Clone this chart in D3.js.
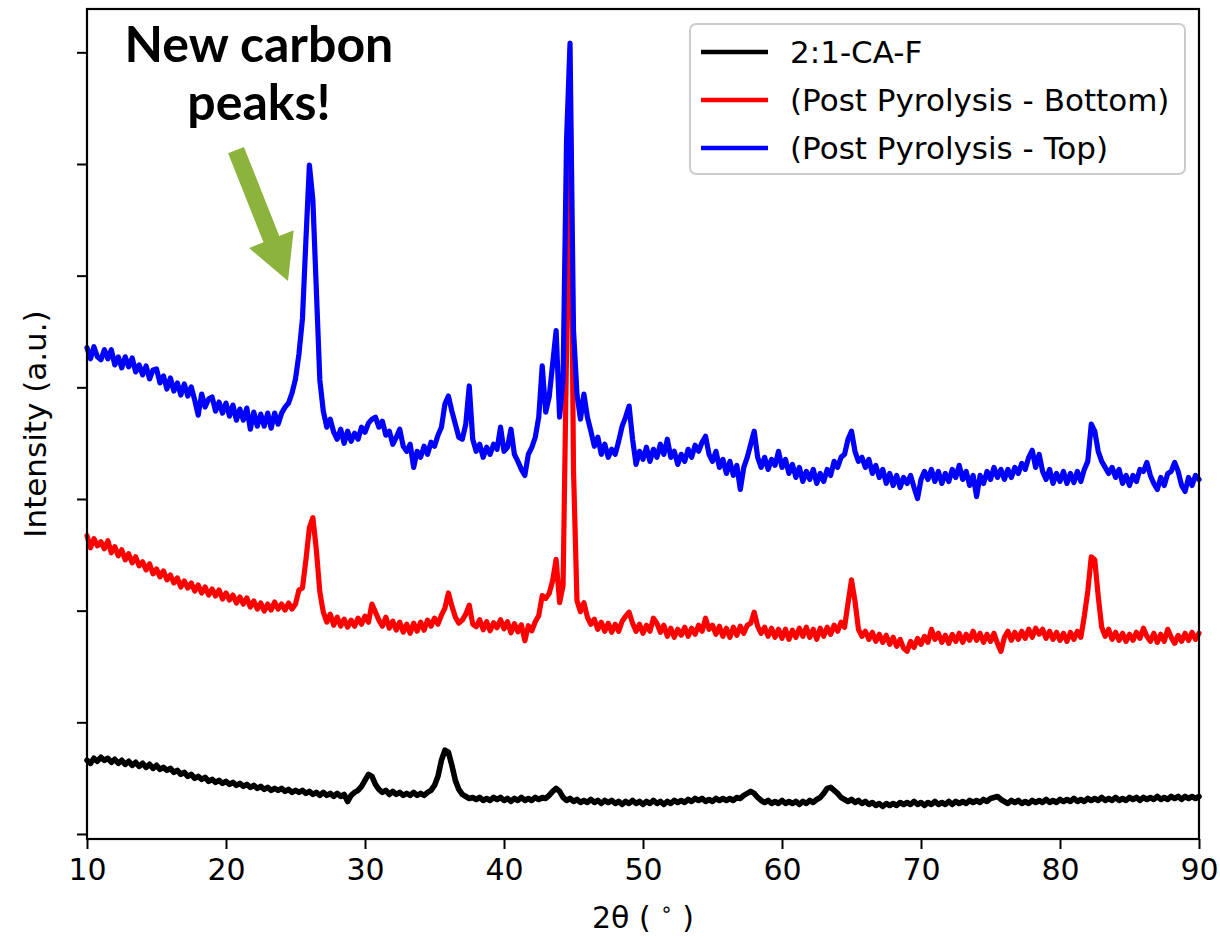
<!DOCTYPE html>
<html>
<head>
<meta charset="utf-8">
<script src="https://cdn.jsdelivr.net/npm/d3@7"></script>
<style>
  body { margin: 0; background: #ffffff; }
  svg { display: block; }
  text { font-family: "DejaVu Sans", sans-serif; fill: #000; }
</style>
</head>
<body>
<svg id="chart" width="1220" height="940"></svg>
<script>
// XRD scan grid: 2θ from 10° to 90° in 0.25° steps
const SCAN_START = 10;
const SCAN_STEP = 0.25;

const seriesNames = ["2:1-CA-F", "(Post Pyrolysis - Bottom)", "(Post Pyrolysis - Top)"];
const seriesColors = ["#000000", "#ff0000", "#0000ff"];
const seriesWidths = [5.6, 5.2, 5.2];

const xTicks = [10, 20, 30, 40, 50, 60, 70, 80, 90];
const yTicks = [0, 1000, 2000, 3000, 4000, 5000, 6000, 7000];

// Intensity (a.u.), one value per scan step, 10° .. 90°
const sampleCAF = [
  660,633,678,651, 687,660,678,642, 669,633,660,624, 651,615,642,606,
  633,597,624,588, 615,579,597,570, 588,552,570,534, 552,516,534,498,
  516,489,507,471, 489,462,480,453, 471,444,462,435, 453,426,444,417,
  435,408,426,399, 417,390,408,390, 408,381,399,372, 390,372,390,363,
  381,354,372,345, 372,345,363,336, 363,336,354,291, 345,372,390,426,
  480,534,516,444, 399,372,390,354, 381,354,372,345, 363,345,372,345,
  363,345,372,390, 435,516,660,750, 732,615,480,399, 354,336,318,327,
  309,327,300,318, 300,327,309,327, 300,318,291,318, 300,327,300,318,
  300,327,309,327, 318,345,381,408, 381,327,300,318, 291,309,282,300,
  282,309,282,300, 273,300,282,300, 273,291,264,291, 273,300,273,291,
  264,291,273,300, 273,291,264,291, 273,300,282,300, 282,309,291,318,
  300,318,291,309, 291,318,300,318, 300,318,300,327, 318,345,363,381,
  363,327,300,282, 300,273,291,273, 300,273,291,273, 291,264,291,273,
  300,282,309,327, 363,408,417,390, 363,327,309,291, 309,282,300,273,
  291,264,282,255, 273,246,273,255, 273,255,282,264, 282,264,291,264,
  282,255,282,264, 291,264,282,264, 291,264,291,273, 291,273,300,282,
  300,282,309,291, 318,327,336,309, 291,273,300,282, 300,273,291,273,
  300,282,300,282, 309,282,300,282, 309,291,309,291, 318,291,309,291,
  318,300,318,300, 327,300,318,300, 327,300,318,300, 327,309,327,300,
  327,309,327,309, 336,309,327,309, 336,318,336,309, 336,318,336,318,
  336
];

const postPyrolysisBottom = [
  2671,2563,2644,2581, 2617,2554,2626,2518, 2572,2491,2545,2455, 2509,2428,2482,2401,
  2437,2365,2419,2329, 2374,2302,2356,2275, 2320,2248,2293,2212, 2266,2203,2248,2176,
  2230,2158,2212,2140, 2194,2131,2185,2104, 2158,2095,2140,2068, 2122,2059,2113,2032,
  2086,2014,2068,1996, 2059,2005,2077,2014, 2059,2005,2068,2014, 2059,2185,2203,2455,
  2743,2833,2545,2167, 1987,1897,1969,1870, 1942,1861,1924,1852, 1915,1861,1933,1879,
  1951,1897,2059,1987, 1915,1861,1942,1843, 1906,1825,1897,1807, 1879,1798,1888,1816,
  1897,1825,1915,1861, 1933,1879,1960,2023, 2158,2041,1942,1888, 1915,1969,2050,1879,
  1856,1919,1829,1901, 1820,1892,1847,1919, 1838,1901,1802,1883, 1811,1874,1730,1865,
  1820,1901,1955,2135, 2108,2153,2270,2459, 2072,2225,4334,6797, 3260,2090,1991,2072,
  1941,1878,1923,1833, 1896,1815,1887,1806, 1878,1815,1905,1950, 1986,1887,1815,1878,
  1797,1869,1815,1932, 1887,1806,1869,1770, 1842,1761,1833,1779, 1851,1770,1842,1788,
  1869,1815,1932,1833, 1869,1788,1860,1770, 1842,1761,1851,1779, 1860,1797,1869,1887,
  1986,1860,1797,1851, 1770,1842,1761,1833, 1752,1833,1743,1824, 1761,1842,1770,1851,
  1761,1833,1743,1842, 1770,1851,1788,1869, 1815,1896,1851,2067, 2275,2085,1833,1770,
  1815,1743,1806,1725, 1788,1716,1779,1698, 1761,1680,1743,1662, 1635,1725,1671,1752,
  1698,1770,1716,1833, 1743,1797,1716,1779, 1707,1788,1725,1797, 1716,1788,1734,1815,
  1734,1797,1716,1788, 1725,1797,1707,1635, 1761,1815,1734,1806, 1743,1815,1752,1833,
  1761,1842,1788,1833, 1752,1815,1743,1806, 1734,1797,1725,1806, 1743,1815,1761,1950,
  2175,2482,2455,2130, 1851,1770,1833,1743, 1806,1734,1797,1725, 1788,1734,1806,1752,
  1842,1770,1725,1797, 1716,1788,1725,1833, 1761,1707,1779,1725, 1797,1734,1806,1743,
  1797
];

const postPyrolysisTop = [
  4354,4255,4363,4273, 4246,4336,4255,4336, 4201,4273,4174,4273, 4183,4264,4138,4201,
  4111,4192,4075,4156, 4165,4039,4102,3985, 4084,3967,4039,3931, 4030,3922,4003,3886,
  3751,3940,3823,3895, 3913,3787,3868,3769, 3859,3742,3841,3706, 3805,3706,3814,3625,
  3778,3652,3760,3652, 3769,3634,3769,3670, 3769,3823,3859,3949, 4075,4300,4615,5319,
  5991,5677,4872,4066, 3787,3643,3715,3598, 3535,3625,3499,3607, 3517,3589,3535,3643,
  3598,3679,3715,3733, 3643,3697,3571,3607, 3490,3553,3625,3472, 3427,3490,3283,3427,
  3373,3472,3400,3508, 3472,3571,3643,3850, 3922,3787,3670,3553, 3535,3670,4012,3535,
  3427,3490,3373,3463, 3400,3490,3445,3643, 3427,3463,3625,3400, 3337,3265,3211,3400,
  3463,3553,3733,4192, 3778,3913,4210,4507, 3733,4075,6215,7083, 4513,3940,3715,3940,
  3733,3607,3472,3553, 3400,3490,3373,3445, 3400,3517,3652,3733, 3832,3535,3310,3427,
  3355,3463,3337,3445, 3373,3490,3400,3535, 3373,3427,3310,3400, 3337,3445,3373,3481,
  3427,3508,3562,3400, 3337,3427,3283,3355, 3229,3337,3211,3301, 3085,3283,3373,3490,
  3607,3373,3283,3373, 3265,3355,3301,3427, 3283,3355,3229,3310, 3193,3283,3157,3247,
  3175,3265,3139,3229, 3157,3265,3211,3337, 3283,3373,3400,3535, 3607,3427,3337,3373,
  3283,3355,3229,3301, 3193,3265,3139,3229, 3121,3211,3103,3193, 3139,3211,3103,3004,
  3175,3247,3175,3265, 3157,3247,3139,3229, 3157,3265,3193,3301, 3175,3247,3121,3211,
  3022,3211,3139,3247, 3175,3283,3193,3265, 3175,3265,3193,3283, 3229,3319,3265,3373,
  3436,3283,3400,3247, 3175,3265,3139,3229, 3157,3247,3139,3229, 3148,3247,3157,3265,
  3337,3670,3607,3427, 3337,3283,3229,3283, 3193,3265,3139,3211, 3121,3211,3157,3265,
  3247,3328,3211,3139, 3085,3193,3121,3229, 3247,3328,3247,3121, 3067,3193,3121,3211,
  3175
];

const seriesValues = [sampleCAF, postPyrolysisBottom, postPyrolysisTop];

// Callout: text lines and arrow (tail → tip) in data coordinates
const calloutLines = ["New carbon", "peaks!"];
const calloutTextAt = [[22.37, 6913], [22.37, 6394]];
const calloutArrow = { tail: [20.72, 6125], tip: [24.46, 4952] };

const svg = d3.select("#chart");
const plot = { left: 87, right: 1199, top: 9, bottom: 839 };

const x = d3.scaleLinear().domain([10, 90]).range([plot.left, plot.right]);
const y = d3.scaleLinear().domain([-45, 7388]).range([plot.bottom, plot.top]);

// Spectra: black first, blue last (on top)
const line = d3.line()
  .x((d, i) => x(SCAN_START + i * SCAN_STEP))
  .y(d => y(d));

const curves = svg.append("g");
seriesValues.forEach((vals, k) => {
  curves.append("path")
    .datum(vals)
    .attr("d", line)
    .attr("fill", "none")
    .attr("stroke", seriesColors[k])
    .attr("stroke-width", seriesWidths[k])
    .attr("stroke-linejoin", "round")
    .attr("stroke-linecap", "round");
});

// Axes
const xAxis = svg.append("g")
  .attr("transform", `translate(0,${plot.bottom})`)
  .call(d3.axisBottom(x).tickValues(xTicks).tickFormat(d3.format("d"))
    .tickSize(10).tickSizeOuter(0).tickPadding(10));
const yAxis = svg.append("g")
  .attr("transform", `translate(${plot.left},0)`)
  .call(d3.axisLeft(y).tickValues(yTicks).tickFormat("")
    .tickSize(10).tickSizeOuter(0));

[xAxis, yAxis].forEach(g => {
  g.select(".domain").remove();
  g.selectAll(".tick line").attr("stroke", "#000").attr("stroke-width", 2);
  g.selectAll(".tick text").style("font-size", "30px").attr("fill", "#000");
});

// Frame (all four spines)
svg.append("rect")
  .attr("x", plot.left).attr("y", plot.top)
  .attr("width", plot.right - plot.left).attr("height", plot.bottom - plot.top)
  .attr("fill", "none").attr("stroke", "#000").attr("stroke-width", 2.2);

// Axis titles
const xTitle = svg.append("text")
  .attr("x", (plot.left + plot.right) / 2).attr("y", 928)
  .attr("text-anchor", "middle").style("font-size", "30px");
xTitle.append("tspan").text("2θ ( ");
xTitle.append("tspan").attr("dy", -12).style("font-size", "20px").text("∘");
xTitle.append("tspan").attr("dy", 12).text(" )");

svg.append("text")
  .attr("transform", `translate(46,${(plot.top + plot.bottom) / 2}) rotate(-90)`)
  .attr("text-anchor", "middle").style("font-size", "31px")
  .text("Intensity (a.u.)");

// Legend
const legend = svg.append("g").attr("transform", "translate(690,24)");
legend.append("rect")
  .attr("width", 495).attr("height", 150).attr("rx", 6)
  .attr("fill", "#fff").attr("fill-opacity", 0.8)
  .attr("stroke", "#cccccc").attr("stroke-width", 2);
seriesNames.forEach((name, k) => {
  const ly = 28 + k * 48;
  legend.append("line")
    .attr("x1", 11).attr("x2", 78).attr("y1", ly).attr("y2", ly)
    .attr("stroke", seriesColors[k]).attr("stroke-width", 4.4);
  legend.append("text")
    .attr("x", 100).attr("y", ly + 11)
    .style("font-size", "31px").text(name);
});

// Callout text
calloutLines.forEach((t, k) => {
  svg.append("text")
    .attr("x", x(calloutTextAt[k][0])).attr("y", y(calloutTextAt[k][1]))
    .attr("text-anchor", "middle")
    .style("font-family", "Lato, 'Open Sans', sans-serif")
    .style("font-weight", 700).style("font-size", "50px")
    .text(t);
});

// Callout arrow (green block arrow)
(function drawArrow() {
  const tx = x(calloutArrow.tail[0]), ty = y(calloutArrow.tail[1]);
  const px = x(calloutArrow.tip[0]), py = y(calloutArrow.tip[1]);
  const len = Math.hypot(px - tx, py - ty);
  const ux = (px - tx) / len, uy = (py - ty) / len;
  const nx = -uy, ny = ux;
  const shaftHalf = 8.5, headHalf = 24, headLen = 45;
  const bx = px - ux * headLen, by = py - uy * headLen;
  const pts = [
    [tx + nx * shaftHalf, ty + ny * shaftHalf],
    [bx + nx * shaftHalf, by + ny * shaftHalf],
    [bx + nx * headHalf, by + ny * headHalf],
    [px, py],
    [bx - nx * headHalf, by - ny * headHalf],
    [bx - nx * shaftHalf, by - ny * shaftHalf],
    [tx - nx * shaftHalf, ty - ny * shaftHalf]
  ];
  svg.append("polygon")
    .attr("points", pts.map(p => p.join(",")).join(" "))
    .attr("fill", "#8cb43c");
})();
</script>
</body>
</html>
